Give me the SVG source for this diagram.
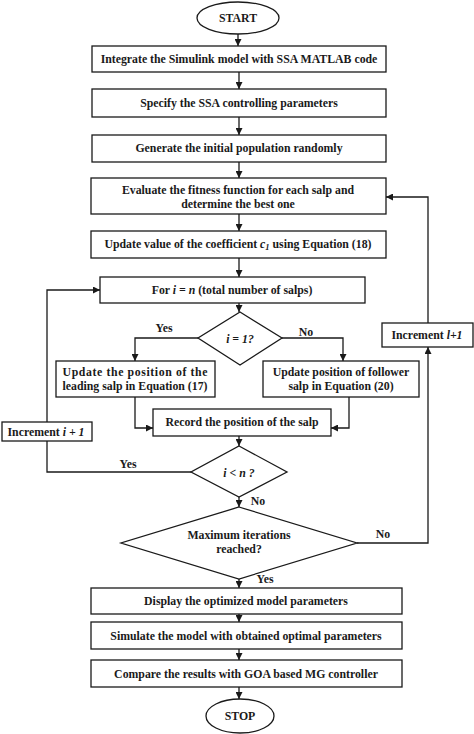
<svg xmlns="http://www.w3.org/2000/svg" width="474" height="734" viewBox="0 0 474 734">
<defs>
<marker id="ah" viewBox="0 0 10 10" refX="10" refY="5" markerWidth="7" markerHeight="7" markerUnits="userSpaceOnUse" orient="auto">
<path d="M0,0 L10,5 L0,10 z" fill="#1a1a1a"/>
</marker>
<style>
.n{fill:#fff;stroke:#1a1a1a;stroke-width:1.3}
.t{font-family:"Liberation Serif","Times New Roman",serif;font-weight:bold;font-size:11.8px;fill:#1a1a1a;text-anchor:middle}
.i{font-style:italic}
.c{fill:none;stroke:#1a1a1a;stroke-width:1.3;marker-end:url(#ah)}
.l{fill:none;stroke:#1a1a1a;stroke-width:1.3}
</style>
</defs>
<rect width="474" height="734" fill="#fff"/>
<g id="connectors">
<path class="c" d="M238,34 V46"/>
<path class="c" d="M239,72 V89"/>
<path class="c" d="M239,117 V135"/>
<path class="c" d="M239,162 V178"/>
<path class="c" d="M239,214 V231"/>
<path class="c" d="M239,258 V277"/>
<path class="c" d="M239,303 V312"/>
<path class="c" d="M198,338 H135 V361"/>
<path class="c" d="M282,338 H343 V361"/>
<path class="c" d="M135,397 V428 H153"/>
<path class="c" d="M349,397 V428 H331"/>
<path class="c" d="M239,436 V446"/>
<path class="l" d="M191,472 H47 V441"/>
<path class="c" d="M47,422 V290 H100"/>
<path class="c" d="M239,497 V507"/>
<path class="c" d="M357,543 H428 V347"/>
<path class="c" d="M428,323 V197 H386"/>
<path class="c" d="M239,579 V588"/>
<path class="c" d="M239,614 V622"/>
<path class="c" d="M239,649 V660"/>
<path class="c" d="M239,687 V699"/>
<text class="t" x="164" y="332">Yes</text>
<text class="t" x="306" y="336">No</text>
<text class="t" x="128" y="468">Yes</text>
<text class="t" x="258" y="505">No</text>
<text class="t" x="383" y="538">No</text>
<text class="t" x="265" y="583">Yes</text>
</g>
<g id="start"><ellipse class="n" cx="238" cy="18" rx="41" ry="16"/><text class="t" x="238" y="22">START</text></g>
<g id="integrate"><rect class="n" x="92" y="46" width="294" height="26"/><text class="t" x="239" y="63">Integrate the Simulink model with SSA MATLAB code</text></g>
<g id="specify"><rect class="n" x="92" y="89" width="294" height="28"/><text class="t" x="239" y="107">Specify the SSA controlling parameters</text></g>
<g id="generate"><rect class="n" x="92" y="135" width="294" height="27"/><text class="t" x="239" y="152">Generate the initial population randomly</text></g>
<g id="evaluate"><rect class="n" x="91" y="178" width="295" height="36"/><text class="t" x="238" y="194">Evaluate the fitness function for each salp and</text><text class="t" x="238" y="208">determine the best one</text></g>
<g id="updatec"><rect class="n" x="91" y="231" width="295" height="27"/><text class="t" x="238" y="248">Update value of the coefficient <tspan class="i">c</tspan><tspan class="i" font-size="8.5" dy="2">1</tspan><tspan dy="-2"> using Equation (18)</tspan></text></g>
<g id="for"><rect class="n" x="100" y="277" width="265" height="26"/><text class="t" x="232" y="294">For <tspan class="i">i = n</tspan> (total number of salps)</text></g>
<g id="d1"><polygon class="n" points="240,312 282,338 240,365 198,338"/><text class="t i" x="240" y="343">i = 1?</text></g>
<g id="leading"><rect class="n" x="56" y="361" width="159" height="36"/><text class="t" x="135" y="376" textLength="145" lengthAdjust="spacing">Update the position of the</text><text class="t" x="135" y="390" textLength="145" lengthAdjust="spacing">leading salp in Equation (17)</text></g>
<g id="follower"><rect class="n" x="263" y="361" width="156" height="36"/><text class="t" x="341" y="376">Update position of follower</text><text class="t" x="341" y="390">salp in Equation (20)</text></g>
<g id="record"><rect class="n" x="153" y="409" width="178" height="27"/><text class="t" x="242" y="426">Record the position of the salp</text></g>
<g id="d2"><polygon class="n" points="239,446 287,472 239,497 191,472"/><text class="t i" x="239" y="477">i &lt; n ?</text></g>
<g id="inci"><rect class="n" x="2" y="422" width="90" height="19"/><text class="t" x="46" y="436">Increment <tspan class="i">i + 1</tspan></text></g>
<g id="d3"><polygon class="n" points="239,507 357,543 239,579 121,543"/><text class="t" x="239" y="539">Maximum iterations</text><text class="t" x="239" y="553">reached?</text></g>
<g id="incl"><rect class="n" x="382" y="323" width="91" height="24"/><text class="t" x="427" y="339">Increment <tspan class="i">l+1</tspan></text></g>
<g id="display"><rect class="n" x="91" y="588" width="311" height="26"/><text class="t" x="246" y="605">Display the optimized model parameters</text></g>
<g id="simulate"><rect class="n" x="91" y="622" width="311" height="27"/><text class="t" x="246" y="640">Simulate the model with obtained optimal parameters</text></g>
<g id="compare"><rect class="n" x="91" y="660" width="311" height="27"/><text class="t" x="246" y="678">Compare the results with GOA based MG controller</text></g>
<g id="stop"><ellipse class="n" cx="240" cy="716" rx="34" ry="17"/><text class="t" x="240" y="720">STOP</text></g>
</svg>
